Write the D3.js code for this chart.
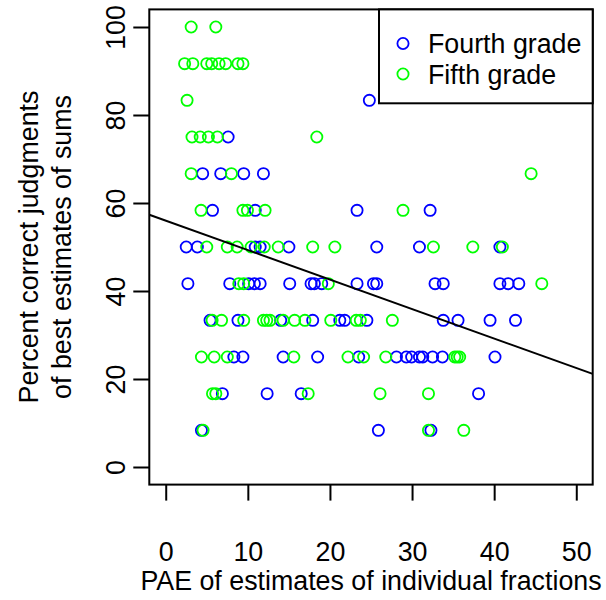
<!DOCTYPE html>
<html>
<head>
<meta charset="utf-8">
<script src="https://cdn.jsdelivr.net/npm/d3@7"></script>
<style>
body { margin: 0; background: #fff; }
text { font-family: "Liberation Sans", Arial, sans-serif; fill: #000; }
</style>
</head>
<body>
<script>
// fourth grade (blue)
var fourthPAE = [24.8,
	7.6,
	4.5, 6.7, 9.5, 11.9,
	5.7, 10.9, 23.3, 32.2,
	2.5, 3.85, 10.9, 11.5, 15.0, 25.7, 30.9, 40.7,
	2.7, 7.8, 10.1, 10.8, 11.5, 15.1, 17.7, 18.1, 19.0, 23.3, 25.3, 25.7, 32.8, 33.8, 40.7, 41.7, 43.0,
	5.4, 8.8, 14.0, 17.9, 21.2, 21.8, 24.5, 33.8, 35.6, 39.5, 42.6,
	8.3, 9.4, 14.3, 18.5, 23.5, 28.1, 29.3, 29.95, 30.9, 31.3, 32.5, 33.7, 40.1,
	6.9, 12.35, 16.5, 38.1,
	4.35, 25.9, 32.3];
var fourthPct = [83.33,
	75,
	66.67, 66.67, 66.67, 66.67,
	58.33, 58.33, 58.33, 58.33,
	50, 50, 50, 50, 50, 50, 50, 50,
	41.67, 41.67, 41.67, 41.67, 41.67, 41.67, 41.67, 41.67, 41.67, 41.67, 41.67, 41.67, 41.67, 41.67, 41.67, 41.67, 41.67,
	33.33, 33.33, 33.33, 33.33, 33.33, 33.33, 33.33, 33.33, 33.33, 33.33, 33.33,
	25, 25, 25, 25, 25, 25, 25, 25, 25, 25, 25, 25, 25,
	16.67, 16.67, 16.67, 16.67,
	8.33, 8.33, 8.33];

// fifth grade (green)
var fifthPAE = [3.1, 6.1,
	2.3, 3.3, 5.0, 5.6, 6.5, 7.3, 8.8, 9.4,
	2.6,
	3.2, 4.2, 5.2, 6.3, 18.4,
	3.1, 8.0, 44.5,
	4.3, 9.4, 9.95, 12.1, 28.9,
	5.0, 7.5, 8.7, 10.4, 12.0, 13.7, 17.9, 20.6, 32.6, 37.4, 41.0,
	8.9, 9.5, 19.8, 45.8,
	5.65, 6.8, 9.5, 11.9, 12.3, 12.7, 14.3, 15.7, 16.95, 20.1, 23.2, 23.7, 27.6,
	4.35, 5.9, 7.5, 15.6, 22.2, 24.1, 26.8, 35.2, 35.5, 35.8,
	5.7, 6.1, 17.35, 26.1, 32.0,
	4.55, 32.0, 36.3];
var fifthPct = [100, 100,
	91.67, 91.67, 91.67, 91.67, 91.67, 91.67, 91.67, 91.67,
	83.33,
	75, 75, 75, 75, 75,
	66.67, 66.67, 66.67,
	58.33, 58.33, 58.33, 58.33, 58.33,
	50, 50, 50, 50, 50, 50, 50, 50, 50, 50, 50,
	41.67, 41.67, 41.67, 41.67,
	33.33, 33.33, 33.33, 33.33, 33.33, 33.33, 33.33, 33.33, 33.33, 33.33, 33.33, 33.33, 33.33,
	25, 25, 25, 25, 25, 25, 25, 25, 25, 25,
	16.67, 16.67, 16.67, 16.67, 16.67,
	8.33, 8.33, 8.33];

var xTicks = [0, 10, 20, 30, 40, 50];
var yTicks = [0, 20, 40, 60, 80, 100];
var fitIntercept = 56.0;
var fitSlope = -0.67;
var legendLabels = ["Fourth grade", "Fifth grade"];
var legendColors = ["#0000ff", "#00ff00"];

var WIDTH = 606;
var HEIGHT = 600;
var FONT = 26.8;

var svg = d3.select("body")
	.append("svg")
	.attr("width", WIDTH)
	.attr("height", HEIGHT);

var x = d3.scaleLinear().domain([-2, 52]).range([149.3, 592.7]);
var y = d3.scaleLinear().domain([-4, 104]).range([484.6, 9.4]);

var toPoints = function(xs, ys) {
	var out = [];
	for (var i = 0; i < xs.length; i++) out.push([xs[i], ys[i]]);
	return out;
};

var series = [toPoints(fourthPAE, fourthPct), toPoints(fifthPAE, fifthPct)];

// points
series.forEach(function(pts, k) {
	svg.append("g").selectAll("circle")
		.data(pts)
		.enter()
		.append("circle")
		.attr("cx", function(d) { return x(d[0]); })
		.attr("cy", function(d) { return y(d[1]); })
		.attr("r", 5.6)
		.attr("fill", "none")
		.attr("stroke", legendColors[k])
		.attr("stroke-width", 1.8);
});

// fitted line
svg.append("line")
	.attr("x1", x(-2)).attr("y1", y(fitIntercept + fitSlope * -2))
	.attr("x2", x(52)).attr("y2", y(fitIntercept + fitSlope * 52))
	.attr("stroke", "#000")
	.attr("stroke-width", 2);

// x axis
var xAxis = svg.append("g")
	.attr("transform", "translate(0," + y.range()[0] + ")")
	.call(d3.axisBottom(x).tickValues(xTicks).tickSize(16).tickSizeOuter(0));
xAxis.select(".domain").remove();
xAxis.selectAll("line").attr("stroke", "#000").attr("stroke-width", 2);
xAxis.selectAll("text")
	.attr("y", 76).attr("dy", null)
	.style("font-size", FONT + "px")
	.style("font-family", "'Liberation Sans', Arial, sans-serif");

// y axis
var yAxis = svg.append("g")
	.attr("transform", "translate(" + x.range()[0] + ",0)")
	.call(d3.axisLeft(y).tickValues(yTicks).tickSize(16).tickSizeOuter(0));
yAxis.select(".domain").remove();
yAxis.selectAll("line").attr("stroke", "#000").attr("stroke-width", 2);
yAxis.selectAll("text")
	.attr("x", 0).attr("y", -24).attr("dy", null)
	.attr("transform", "rotate(-90)")
	.attr("text-anchor", "middle")
	.style("font-size", FONT + "px")
	.style("font-family", "'Liberation Sans', Arial, sans-serif");

// box
svg.append("rect")
	.attr("x", x.range()[0]).attr("y", y.range()[1])
	.attr("width", x.range()[1] - x.range()[0])
	.attr("height", y.range()[0] - y.range()[1])
	.attr("fill", "none").attr("stroke", "#000").attr("stroke-width", 2);

// axis titles
svg.append("text")
	.attr("x", (x.range()[0] + x.range()[1]) / 2).attr("y", 590)
	.attr("text-anchor", "middle")
	.style("font-size", FONT + "px")
	.text("PAE of estimates of individual fractions");

var midY = (y.range()[0] + y.range()[1]) / 2;
svg.append("text")
	.attr("transform", "translate(38," + midY + ") rotate(-90)")
	.attr("text-anchor", "middle")
	.style("font-size", FONT + "px")
	.text("Percent correct judgments");
svg.append("text")
	.attr("transform", "translate(71," + midY + ") rotate(-90)")
	.attr("text-anchor", "middle")
	.style("font-size", FONT + "px")
	.text("of best estimates of sums");

// legend
var legend = svg.append("g");
legend.append("rect")
	.attr("x", 379).attr("y", y.range()[1])
	.attr("width", x.range()[1] - 379)
	.attr("height", 103.3 - y.range()[1])
	.attr("fill", "#fff").attr("stroke", "#000").attr("stroke-width", 2);
var legendRows = [43.5, 74];
legendLabels.forEach(function(lab, i) {
	legend.append("circle")
		.attr("cx", 403).attr("cy", legendRows[i]).attr("r", 5.6)
		.attr("fill", "none").attr("stroke", legendColors[i]).attr("stroke-width", 1.8);
	legend.append("text")
		.attr("x", 428).attr("y", legendRows[i] + 9.5)
		.style("font-size", FONT + "px")
		.text(lab);
});
</script>
</body>
</html>
